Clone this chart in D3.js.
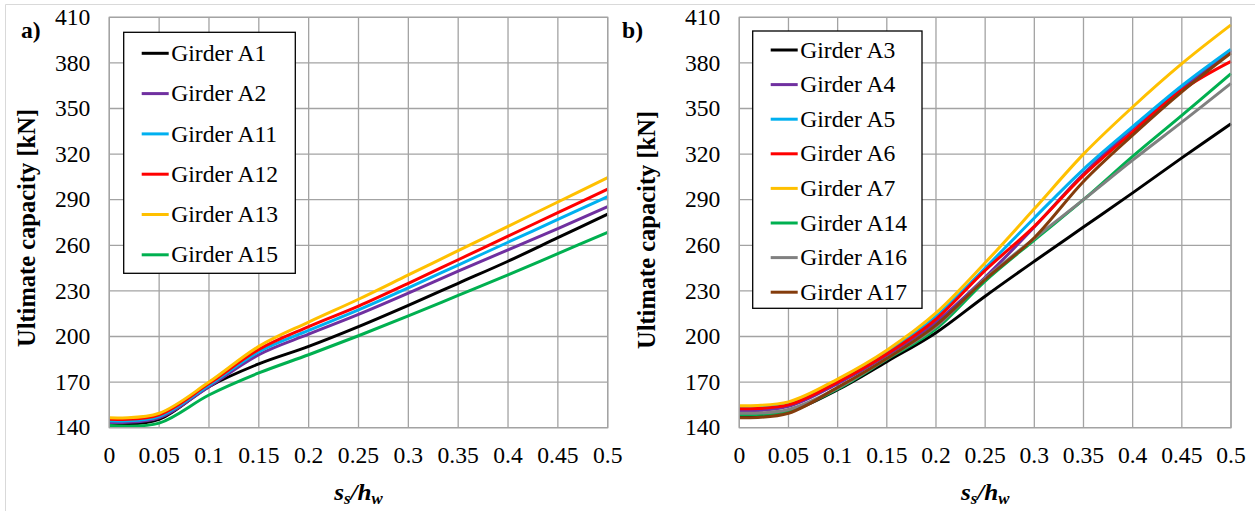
<!DOCTYPE html>
<html>
<head>
<meta charset="utf-8">
<script src="https://cdn.jsdelivr.net/npm/d3@7"></script>
<style>
  body { margin: 0; background: #fff; }
  svg { display: block; }
</style>
</head>
<body>
<svg id="fig" width="1255" height="511"></svg>
<script>
// Stiffener spacing ratio s_s/h_w (x positions of every data point)
const ratio = [0, 0.05, 0.1, 0.15, 0.2, 0.25, 0.3, 0.35, 0.4, 0.45, 0.5];
const xTickLabels = ["0", "0.05", "0.1", "0.15", "0.2", "0.25", "0.3", "0.35", "0.4", "0.45", "0.5"];
const yTicks = [140, 170, 200, 230, 260, 290, 320, 350, 380, 410];

// Panel a) ultimate capacity [kN]
const namesA = ["Girder A1", "Girder A2", "Girder A11", "Girder A12", "Girder A13", "Girder A15"];
const colorsA = ["#000000", "#7030A0", "#00B0F0", "#FF0000", "#FFC000", "#00B050"];
const girderA1  = [142.5, 145.5, 167.0, 182.0, 193.5, 206.5, 220.5, 235.0, 249.5, 265.0, 280.5];
const girderA2  = [143.5, 146.5, 167.0, 188.0, 201.5, 214.5, 228.5, 243.0, 257.0, 271.0, 285.5];
const girderA11 = [144.5, 147.5, 168.0, 190.0, 204.0, 217.5, 232.0, 247.0, 262.0, 277.0, 292.0];
const girderA12 = [145.5, 148.5, 169.0, 191.5, 206.5, 220.0, 235.0, 250.5, 266.0, 281.5, 297.0];
const girderA13 = [146.5, 149.5, 170.0, 193.5, 209.5, 224.5, 240.5, 256.5, 272.5, 288.5, 304.5];
const girderA15 = [141.5, 143.0, 161.5, 176.0, 188.0, 200.5, 213.5, 227.0, 240.5, 254.5, 268.5];

// Panel b) ultimate capacity [kN]
const namesB = ["Girder A3", "Girder A4", "Girder A5", "Girder A6", "Girder A7", "Girder A14", "Girder A16", "Girder A17"];
const colorsB = ["#000000", "#7030A0", "#00B0F0", "#FF0000", "#FFC000", "#00B050", "#808080", "#843C0C"];
const girderA3  = [147.5, 150.5, 165.0, 183.5, 202.5, 226.5, 249.5, 272.0, 294.5, 317.5, 340.0];
const girderA4  = [151.0, 154.0, 169.0, 187.5, 209.5, 239.0, 272.0, 307.0, 337.0, 363.0, 388.0];
const girderA5  = [153.5, 156.0, 170.5, 189.5, 213.0, 245.0, 278.0, 310.0, 338.0, 365.0, 389.0];
const girderA6  = [152.5, 155.0, 170.0, 188.5, 211.5, 243.5, 272.5, 306.0, 334.5, 362.0, 381.0];
const girderA7  = [154.5, 157.0, 172.0, 191.0, 215.5, 248.5, 284.0, 320.0, 351.0, 379.5, 405.0];
const girderA14 = [148.5, 151.0, 165.5, 185.0, 205.0, 236.5, 263.5, 290.0, 318.5, 345.5, 373.0];
const girderA16 = [149.5, 152.0, 166.0, 185.5, 206.5, 238.0, 264.5, 290.0, 316.0, 341.0, 366.5];
const girderA17 = [146.5, 149.5, 166.5, 185.5, 207.5, 237.5, 265.0, 302.0, 332.5, 361.0, 386.5];

const seriesA = [girderA1, girderA2, girderA11, girderA12, girderA13, girderA15];
const seriesB = [girderA3, girderA4, girderA5, girderA6, girderA7, girderA14, girderA16, girderA17];

const svg = d3.select("#fig");
const FONT = "'Liberation Serif', 'Times New Roman', serif";
const SX = 1.05;          // slight horizontal stretch of the typeset figure
const GRID = "#a3a3a3";

// thin frame around the figure
svg.append("path")
  .attr("d", "M5.5,511 V4.5 H1255")
  .attr("fill", "none")
  .attr("stroke", "#d9d9d9")
  .attr("stroke-width", 1);

function stretchedText(parent, x, y, str, opts) {
  const t = parent.append("text")
    .attr("transform", `translate(${x},${y}) scale(${SX},1)`)
    .attr("font-family", FONT)
    .attr("font-size", opts.size)
    .attr("font-weight", opts.weight || "normal")
    .attr("text-anchor", opts.anchor || "start")
    .attr("fill", "#000");
  if (opts.dy) t.attr("dy", opts.dy);
  t.text(str);
  return t;
}

function panel(o) {
  const x = d3.scaleLinear().domain([0, 0.5]).range([o.x0, o.x1]);
  const y = d3.scaleLinear().domain([140, 410]).range([o.y1, o.y0]);
  const g = svg.append("g");

  // grid
  g.append("g").selectAll("line").data(ratio).join("line")
    .attr("x1", d => x(d)).attr("x2", d => x(d))
    .attr("y1", o.y0).attr("y2", o.y1)
    .attr("stroke", GRID).attr("stroke-width", 1.3);
  g.append("g").selectAll("line").data(yTicks).join("line")
    .attr("x1", o.x0).attr("x2", o.x1)
    .attr("y1", d => y(d)).attr("y2", d => y(d))
    .attr("stroke", GRID).attr("stroke-width", 1.3);

  // tick labels
  yTicks.forEach(v => stretchedText(g, o.x0 - 19, y(v), String(v), { size: 22.5, anchor: "end", dy: "0.34em" }));
  ratio.forEach((v, i) => stretchedText(g, x(v), o.y1 + 35, xTickLabels[i], { size: 22.5, anchor: "middle" }));

  // curves
  const line = d3.line()
    .x((d, i) => x(ratio[i]))
    .y(d => y(d))
    .curve(d3.curveCardinal.tension(0));
  g.append("g").selectAll("path").data(o.series).join("path")
    .attr("d", d => line(d))
    .attr("fill", "none")
    .attr("stroke", (d, i) => o.colors[i])
    .attr("stroke-width", 3)
    .attr("stroke-linejoin", "round");

  // legend
  const lg = g.append("g");
  lg.append("rect")
    .attr("x", o.legend.x).attr("y", o.legend.y)
    .attr("width", o.legend.w).attr("height", o.legend.h)
    .attr("fill", "#fff").attr("stroke", "#000").attr("stroke-width", 1.3);
  o.names.forEach((n, i) => {
    const cy = o.legend.first + i * o.legend.step;
    lg.append("line")
      .attr("x1", o.legend.x + 18).attr("x2", o.legend.x + 45)
      .attr("y1", cy).attr("y2", cy)
      .attr("stroke", o.colors[i]).attr("stroke-width", 3);
    stretchedText(lg, o.legend.x + 47.5, cy, n, { size: 22.5, dy: "0.34em" });
  });

  // axis titles
  g.append("text")
    .attr("transform", `translate(${o.ylabX},${o.ylabY}) rotate(-90)`)
    .attr("font-family", FONT).attr("font-size", 24.5).attr("font-weight", "bold")
    .attr("text-anchor", "middle").attr("dy", "0.34em")
    .text("Ultimate capacity [kN]");

  const xt = g.append("text")
    .attr("transform", `translate(${(o.x0 + o.x1) / 2},${o.y1 + 72}) scale(${SX},1)`)
    .attr("font-family", FONT).attr("font-size", 24).attr("font-weight", "bold")
    .attr("font-style", "italic").attr("text-anchor", "middle");
  xt.append("tspan").text("s");
  xt.append("tspan").attr("font-size", 16).attr("dy", 4).text("s");
  xt.append("tspan").attr("dy", -4).text("/h");
  xt.append("tspan").attr("font-size", 16).attr("dy", 4).text("w");

  // panel tag
  stretchedText(g, o.tagX, 38, o.tag, { size: 22.5, weight: "bold" });

  // plot frame
  g.append("rect")
    .attr("x", o.x0).attr("y", o.y0)
    .attr("width", o.x1 - o.x0).attr("height", o.y1 - o.y0)
    .attr("fill", "none").attr("stroke", GRID).attr("stroke-width", 1.3);
}

panel({
  x0: 109.3, x1: 607.7, y0: 17.3, y1: 427.7,
  series: seriesA, names: namesA, colors: colorsA,
  legend: { x: 123.7, y: 32.3, w: 171.6, h: 241, first: 53.3, step: 40.3 },
  ylabX: 27, ylabY: 228, tag: "a)", tagX: 21
});

panel({
  x0: 739.3, x1: 1231, y0: 17.3, y1: 427.7,
  series: seriesB, names: namesB, colors: colorsB,
  legend: { x: 752.7, y: 31, w: 169.3, h: 277.3, first: 50, step: 34.6 },
  ylabX: 647, ylabY: 230, tag: "b)", tagX: 622
});
</script>
</body>
</html>
